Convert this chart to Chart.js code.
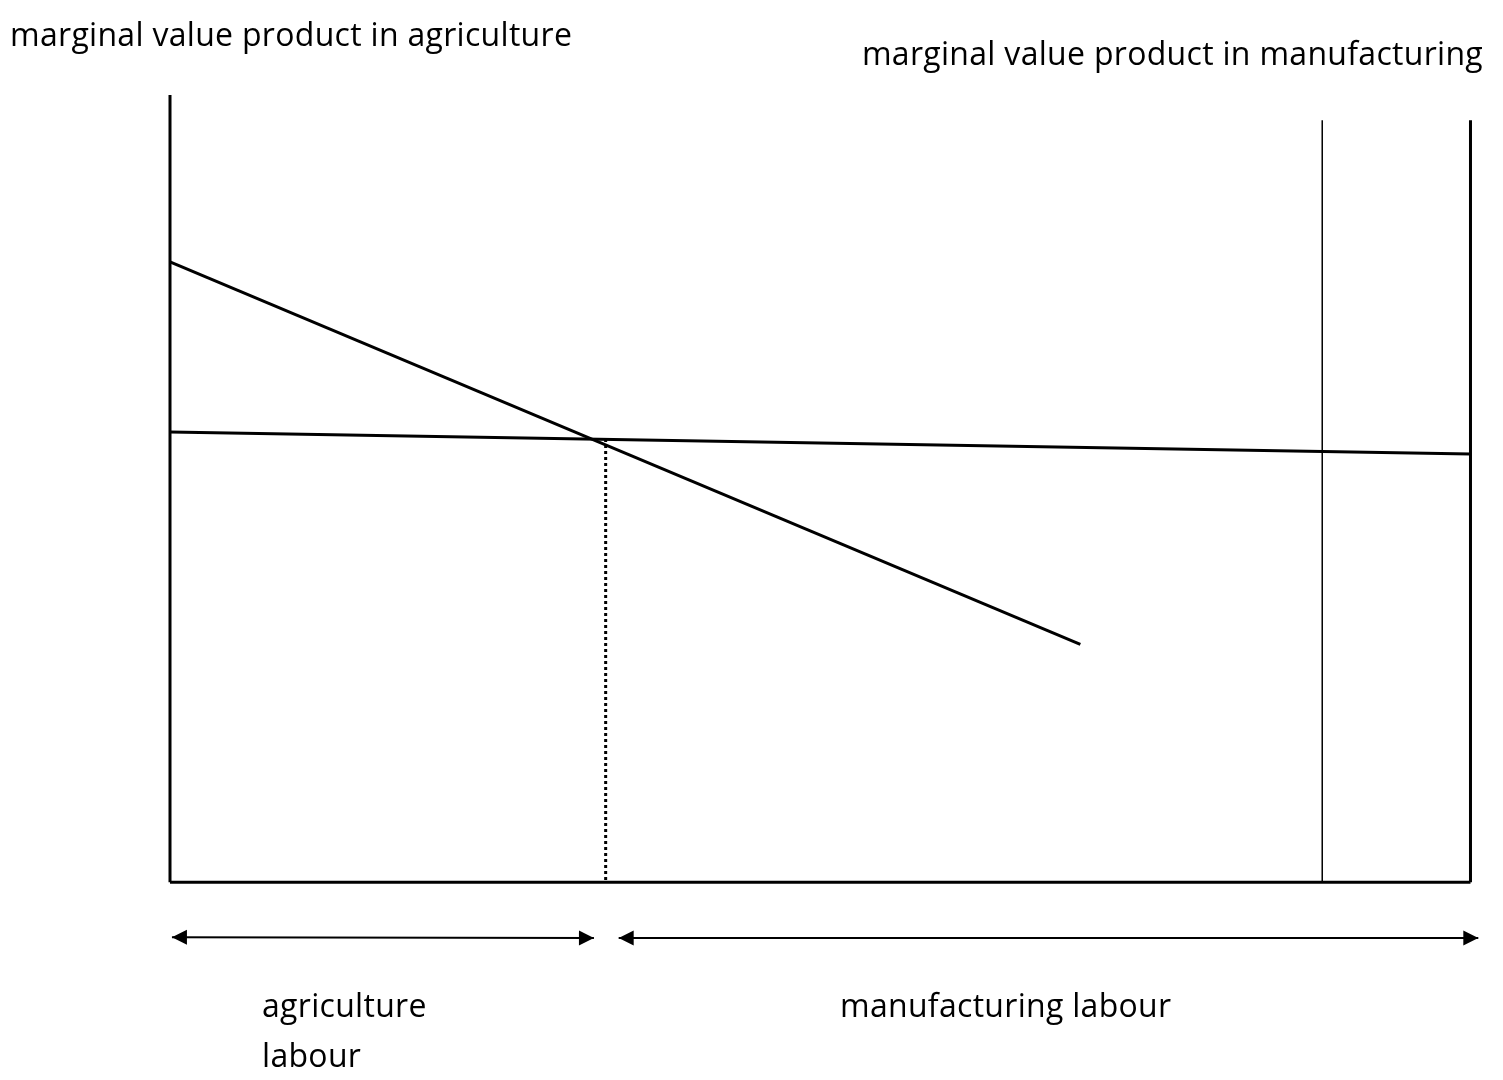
<!DOCTYPE html>
<html>
<head>
<meta charset="utf-8">
<script src="https://cdn.jsdelivr.net/npm/chart.js@4/dist/chart.umd.min.js"></script>
<style>
  body { margin: 0; background: #fff; }
  #wrap { position: relative; width: 1503px; height: 1080px; }
  .lbl { position: absolute; font-family: 'Open Sans', sans-serif; font-size: 32px; letter-spacing: 0.3px; line-height: 30px; color: #000; white-space: nowrap; }
</style>
</head>
<body>
<div id="wrap">
  <canvas id="chart" width="1503" height="1080"></canvas>
  <div class="lbl" style="left:10px; top:19px;">marginal value product in agriculture</div>
  <div class="lbl" style="right:20px; top:38px;">marginal value product in manufacturing</div>
  <div class="lbl" style="left:262px; top:990px;">agriculture</div>
  <div class="lbl" style="left:262px; top:1040px;">labour</div>
  <div class="lbl" style="left:840px; top:990px;">manufacturing labour</div>
</div>
<script>
// labour runs 0..100 from the agriculture axis (left) to the manufacturing axis (right)
const leftAxis = [{ x: 0, y: 100 }, { x: 0, y: 0 }];
const baseAxis = [{ x: 0, y: 0 }, { x: 100, y: 0 }];
const rightAxis = [{ x: 100, y: 96.8 }, { x: 100, y: 0 }];
const markerLine = [{ x: 88.6, y: 96.8 }, { x: 88.6, y: 0 }];
const mvpAgriculture = [{ x: 0, y: 78.8 }, { x: 70, y: 30.2 }];
const mvpManufacturing = [{ x: 0, y: 57.2 }, { x: 100, y: 54.4 }];
const equilibriumDrop = [{ x: 33.5, y: 56.3 }, { x: 33.5, y: 0 }];
const agriArrow = [{ x: 0.15, y: -7 }, { x: 32.6, y: -7.1 }];
const manuArrow = [{ x: 34.5, y: -7.1 }, { x: 100.6, y: -7.1 }];

function seg(data, width, extra) {
   return Object.assign({
      data: data,
      showLine: true,
      borderColor: '#000',
      borderWidth: width,
      pointRadius: 0,
      fill: false,
      clip: false,
   }, extra || {});
}

// filled arrow heads at both ends of datasets flagged with arrowHeads
const arrowPlugin = {
   id: 'arrowHeads',
   afterDatasetsDraw(chart) {
      const ctx = chart.ctx;
      chart.data.datasets.forEach((ds, i) => {
         if (!ds.arrowHeads) return;
         const pts = chart.getDatasetMeta(i).data;
         const ends = [[pts[0], pts[1]], [pts[pts.length - 1], pts[pts.length - 2]]];
         ends.forEach(([tip, from]) => {
            const a = Math.atan2(tip.y - from.y, tip.x - from.x);
            const len = 15, half = 7.5;
            ctx.save();
            ctx.translate(tip.x, tip.y);
            ctx.rotate(a);
            ctx.beginPath();
            ctx.moveTo(0, 0);
            ctx.lineTo(-len, -half);
            ctx.lineTo(-len, half);
            ctx.closePath();
            ctx.fillStyle = '#000';
            ctx.fill();
            ctx.restore();
         });
      });
   }
};

new Chart(document.getElementById('chart').getContext('2d'), {
   type: 'scatter',
   data: {
      datasets: [
         seg(leftAxis, 3),
         seg(baseAxis, 3),
         seg(rightAxis, 3),
         seg(markerLine, 1.5),
         seg(mvpAgriculture, 3),
         seg(mvpManufacturing, 3),
         seg(equilibriumDrop, 3, { borderDash: [3, 3] }),
         seg(agriArrow, 2, { arrowHeads: true }),
         seg(manuArrow, 2, { arrowHeads: true }),
      ]
   },
   options: {
      responsive: false,
      animation: false,
      devicePixelRatio: 1,
      layout: { padding: { left: 170, top: 95, right: 0, bottom: 1 } },
      plugins: { legend: { display: false }, tooltip: { enabled: false } },
      scales: {
         x: { type: 'linear', min: 0, max: 102.5, display: false },
         y: { type: 'linear', min: -25, max: 100, display: false }
      }
   },
   plugins: [arrowPlugin]
});
</script>
</body>
</html>
